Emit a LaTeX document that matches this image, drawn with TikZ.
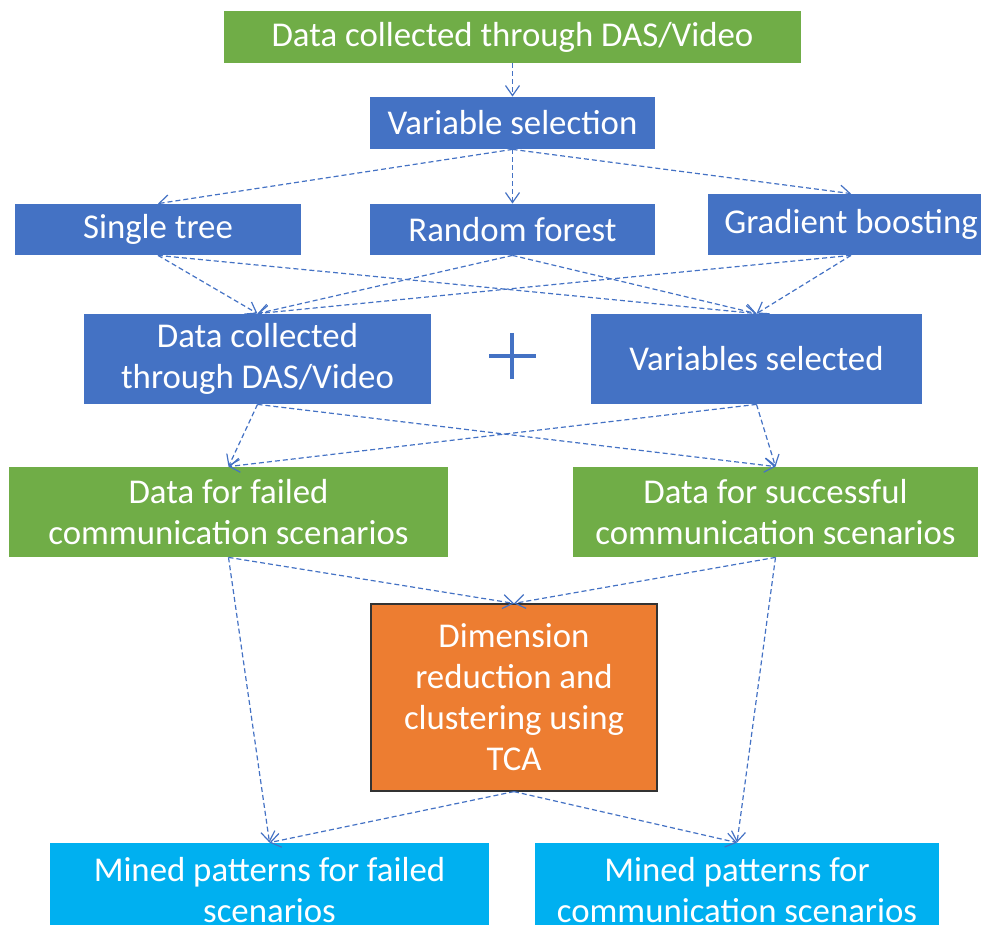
\documentclass[tikz,border=0pt]{standalone}
\usepackage{fontspec}
\setmainfont{Carlito}
\usetikzlibrary{arrows.meta}
\definecolor{Leaf}{HTML}{70AD47}
\definecolor{Steel}{HTML}{4472C4}
\definecolor{Amber}{HTML}{ED7D31}
\definecolor{Sky}{HTML}{00B0F0}
\tikzset{
  box/.style={
    inner sep=0pt, text=white, align=center,
    font=\fontsize{17.4}{20.5}\selectfont
  },
  greenbox/.style={box, fill=Leaf},
  bluebox/.style={box, fill=Steel},
  orangebox/.style={box, fill=Amber, draw=black!80, line width=0.6pt},
  cyanbox/.style={box, fill=Sky},
  link/.style={-{Straight Barb[length=5pt,width=7pt]}, draw=Steel,
    line width=0.6pt, dash pattern=on 2.5pt off 1.5pt},
  plussign/.style={draw=Steel, line width=2pt}
}
\begin{document}
\begin{tikzpicture}[x=0.5pt,y=-0.5pt]
  \useasboundingbox (0,0) rectangle (981,925);
  % upper part
  \node[greenbox,minimum width=288.5pt,minimum height=26pt] (das) at (512.5,37) {Data collected through DAS/Video};
  \node[bluebox,minimum width=142.5pt,minimum height=26pt] (varsel) at (512.5,123) {Variable selection};
  \node[bluebox,minimum width=143pt,minimum height=25.5pt] (tree) at (158,229.5) {Single tree};
  \node[bluebox,minimum width=142.5pt,minimum height=25.5pt] (forest) at (512.5,229.5) {Random forest};
  \node[bluebox,minimum width=143pt,minimum height=30.5pt] (boost) at (851,224.5) {Gradient boosting};
  \node[bluebox,minimum width=173.5pt,minimum height=45pt] (dasdata) at (257.5,359) {Data collected\\through DAS/Video};
  \node[bluebox,minimum width=165.5pt,minimum height=45pt] (varsdone) at (756.5,359) {Variables selected};
  \draw[plussign] (489,356) -- (536,356) (512,333) -- (512,379);
  % lower part
  \node[greenbox,minimum width=219.5pt,minimum height=45pt] (faildata) at (228.5,512) {Data for failed\\communication scenarios};
  \node[greenbox,minimum width=202.5pt,minimum height=45pt] (succdata) at (775.5,512) {Data for successful\\communication scenarios};
  \node[orangebox,minimum width=143pt,minimum height=93.5pt] (tca) at (514,697.5) {Dimension\\reduction and\\clustering using\\TCA};
  \node[cyanbox,minimum width=219.5pt,minimum height=47pt] (minedfail) at (269.5,890) {Mined patterns for failed\\scenarios};
  \node[cyanbox,minimum width=202pt,minimum height=47pt] (minedcomm) at (737,890) {Mined patterns for\\communication scenarios};
  % connectors
  \draw[link] (das.south) -- (varsel.north);
  \foreach \m in {tree,forest,boost}
    \draw[link] (varsel.south) -- (\m.north);
  \foreach \m in {tree,forest,boost} {
    \draw[link] (\m.south) -- (dasdata.north);
    \draw[link] (\m.south) -- (varsdone.north);
  }
  \foreach \m in {dasdata,varsdone} {
    \draw[link] (\m.south) -- (faildata.north);
    \draw[link] (\m.south) -- (succdata.north);
  }
  \draw[link] (faildata.south) -- (tca.north);
  \draw[link] (succdata.south) -- (tca.north);
  \draw[link] (faildata.south) -- (minedfail.north);
  \draw[link] (succdata.south) -- (minedcomm.north);
  \draw[link] (tca.south) -- (minedfail.north);
  \draw[link] (tca.south) -- (minedcomm.north);
\end{tikzpicture}
\end{document}
